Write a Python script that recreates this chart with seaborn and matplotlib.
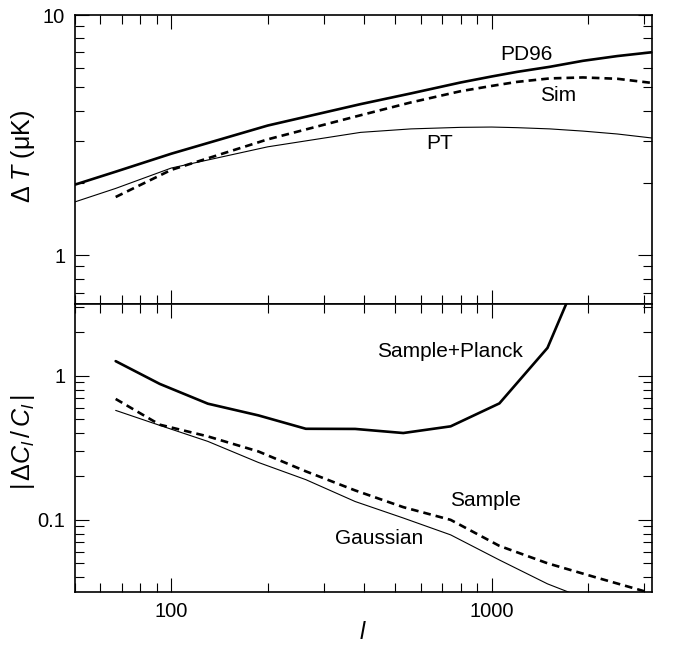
import numpy as np
import pandas as pd
import matplotlib
matplotlib.use("Agg")
import matplotlib.pyplot as plt
import seaborn as sns
from matplotlib.ticker import LogLocator, NullFormatter, FixedLocator, FixedFormatter

# ---------------- data ----------------
# top panel: Delta T (muK) vs multipole l
l_top = [50, 67, 100, 200, 390, 560, 800, 1000, 1200, 1520, 1930, 2470, 3162]
pd96 = [1.97, 2.23, 2.65, 3.47, 4.26, 4.72, 5.24, 5.55, 5.80, 6.09, 6.45, 6.75, 7.00]
pt = [1.67, 1.90, 2.31, 2.83, 3.25, 3.36, 3.41, 3.42, 3.40, 3.36, 3.29, 3.20, 3.08]
l_sim = [67, 100, 200, 390, 560, 800, 1000, 1200, 1520, 1930, 2470, 3162]
sim = [1.75, 2.27, 3.04, 3.83, 4.33, 4.82, 5.07, 5.27, 5.45, 5.50, 5.43, 5.22]

# bottom panel: |Delta C_l / C_l| vs l
l_bot = [67, 92, 130, 187, 263, 375, 530, 745, 1058, 1495, 2110, 3000]
planck = [1.26, 0.876, 0.639, 0.53, 0.428, 0.427, 0.400, 0.445, 0.642, 1.557, 9.4, np.nan]
sample = [0.689, 0.457, 0.379, 0.298, 0.217, 0.160, 0.1225, 0.100, 0.066, 0.050, 0.040, 0.032]
gauss = [0.574, 0.452, 0.350, 0.250, 0.190, 0.134, 0.103, 0.0787, 0.0527, 0.036, 0.0267, 0.020]

# ---------------- style ----------------
sns.set_style("ticks")
plt.rcParams["font.family"] = ["Liberation Sans", "DejaVu Sans"]
plt.rcParams["mathtext.fontset"] = "custom"
plt.rcParams["mathtext.rm"] = "Liberation Sans"
plt.rcParams["mathtext.it"] = "Liberation Sans:italic"
plt.rcParams["mathtext.bf"] = "Liberation Sans:bold"
plt.rcParams["axes.linewidth"] = 1.2
for k in ("text.color", "axes.labelcolor", "xtick.color", "ytick.color",
          "xtick.labelcolor", "ytick.labelcolor", "axes.edgecolor"):
    plt.rcParams[k] = "black"

fig, (ax1, ax2) = plt.subplots(2, 1, figsize=(6.73, 6.45), dpi=100, sharex=True)
fig.subplots_adjust(left=0.1114, right=0.9683, top=0.9767, bottom=0.0822, hspace=0)

THICK = 1.9
THIN = 0.8
DASH = (0, (2.9, 1.9))

df_top = pd.DataFrame({"l": l_top, "PD96": pd96, "PT": pt})
df_sim = pd.DataFrame({"l": l_sim, "Sim": sim})
sns.lineplot(data=df_top, x="l", y="PD96", ax=ax1, color="black", lw=THICK, estimator=None, sort=False)
sns.lineplot(data=df_top, x="l", y="PT", ax=ax1, color="black", lw=THIN, estimator=None, sort=False)
sns.lineplot(data=df_sim, x="l", y="Sim", ax=ax1, color="black", lw=THICK, ls=DASH, estimator=None, sort=False)

df_bot = pd.DataFrame({"l": l_bot, "planck": planck, "sample": sample, "gauss": gauss})
sns.lineplot(data=df_bot.dropna(), x="l", y="planck", ax=ax2, color="black", lw=THICK, estimator=None, sort=False)
sns.lineplot(data=df_bot, x="l", y="sample", ax=ax2, color="black", lw=THICK, ls=DASH, estimator=None, sort=False)
sns.lineplot(data=df_bot, x="l", y="gauss", ax=ax2, color="black", lw=THIN, estimator=None, sort=False)

for ax in (ax1, ax2):
    ax.set_xscale("log")
    ax.set_yscale("log")
    ax.set_xlim(50, 10 ** 3.5)
    ax.tick_params(which="both", direction="in", top=True, right=True, width=0.8,
                   labelsize=14.5, pad=7, color="black", labelcolor="black")
    ax.tick_params(which="major", length=10)
    ax.tick_params(which="minor", length=6.5)
    ax.xaxis.set_major_locator(FixedLocator([100, 1000]))
    ax.xaxis.set_minor_locator(LogLocator(base=10, subs=np.arange(2, 10)))
    ax.xaxis.set_minor_formatter(NullFormatter())
    ax.yaxis.set_minor_locator(LogLocator(base=10, subs=np.arange(2, 10)))
    ax.yaxis.set_minor_formatter(NullFormatter())
    for s in ax.spines.values():
        s.set_linewidth(1.2)
        s.set_color("black")

ax1.set_ylim(10 ** -0.2, 10)
ax1.yaxis.set_major_locator(FixedLocator([1, 10]))
ax1.yaxis.set_major_formatter(FixedFormatter(["1", "10"]))
ax1.tick_params(axis="x", labelbottom=False)

ax2.set_ylim(10 ** -1.5, 10 ** 0.5)
ax2.yaxis.set_major_locator(FixedLocator([0.1, 1]))
ax2.yaxis.set_major_formatter(FixedFormatter(["0.1", "1"]))
ax2.xaxis.set_major_formatter(FixedFormatter(["100", "1000"]))

ax1.set_xlabel("")
ax1.set_ylabel(r"$\Delta\;T$ (μK)", fontsize=18)
ax1.yaxis.set_label_coords(-0.066, 0.51)
ax2.set_ylabel(r"$|\,\Delta C_l\,/\,C_l\,|$", fontsize=18)
ax2.yaxis.set_label_coords(-0.066, 0.52)
ax2.set_xlabel(r"$l$", fontsize=17)
ax2.xaxis.set_label_coords(0.5, -0.142)
ax2.xaxis.label.set_va("center")

ax1.text(1289, 6.88, "PD96", fontsize=15, ha="center", va="center")
ax1.text(1614, 4.64, "Sim", fontsize=15, ha="center", va="center")
ax1.text(690, 2.92, "PT", fontsize=15, ha="center", va="center")
ax2.text(739, 1.475, "Sample+Planck", fontsize=15, ha="center", va="center")
ax2.text(957, 0.1355, "Sample", fontsize=15, ha="center", va="center")
ax2.text(445, 0.0746, "Gaussian", fontsize=15, ha="center", va="center")

fig.savefig("out.png", dpi=100)
